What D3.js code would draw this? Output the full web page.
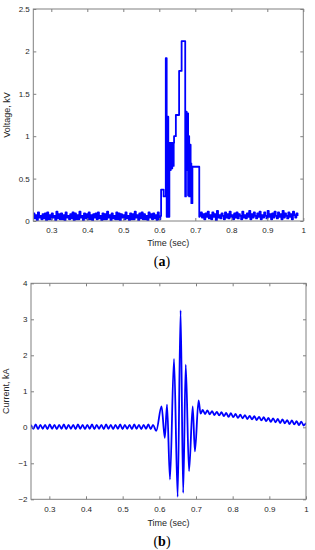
<!DOCTYPE html>
<html>
<head>
<meta charset="utf-8">
<script src="https://cdn.jsdelivr.net/npm/d3@7"></script>
<style>
  body { margin: 0; background: #fff; }
  svg { display: block; }
</style>
</head>
<body>
<div id="chart"></div>
<script>
// ---- tick labels ----
const timeTicks = [0.3, 0.4, 0.5, 0.6, 0.7, 0.8, 0.9, 1];
const voltageTicks = [0, 0.5, 1, 1.5, 2, 2.5];
const currentTicks = [-2, -1, 0, 1, 2, 3, 4];

// ---- (a) voltage, kV : sampled baseline + stepped burst ----
const voltageStep = 0.0032;
const voltagePreStart = 0.25;
const voltagePre = [
  0.09,0.03,0.07,0.01, 0.10,0.04,0.06,0.02, 0.08,0.03,0.09,0.01, 0.10,0.02,0.07,0.02,
  0.09,0.04,0.06,0.01, 0.11,0.03,0.08,0.02, 0.09,0.02,0.07,0.01, 0.10,0.04,0.06,0.02,
  0.08,0.03,0.10,0.01, 0.09,0.02,0.07,0.02, 0.11,0.04,0.06,0.01, 0.09,0.03,0.08,0.02,
  0.10,0.02,0.07,0.01, 0.08,0.04,0.09,0.02, 0.10,0.03,0.06,0.01, 0.09,0.02,0.08,0.02,
  0.11,0.04,0.07,0.01, 0.09,0.03,0.06,0.02, 0.10,0.02,0.09,0.01, 0.08,0.04,0.07,0.02,
  0.10,0.03,0.06,0.01, 0.09,0.02,0.08,0.02, 0.11,0.04,0.07,0.01, 0.09,0.03,0.10,0.02,
  0.08,0.02,0.06,0.01, 0.10,0.04,0.08,0.02, 0.09,0.03,0.07,0.01, 0.10,0.02
];
const voltageBurst = [
  [0.603, 0.06], [0.605, 0.37], [0.612, 0.29], [0.618, 1.92], [0.6205, 0.05],
  [0.622, 1.23], [0.625, 0.05], [0.628, 0.92], [0.630, 0.60], [0.632, 0.92],
  [0.634, 0.62], [0.636, 0.92], [0.638, 0.65], [0.640, 0.92], [0.641, 1.00],
  [0.646, 1.25], [0.655, 1.77], [0.662, 2.12], [0.672, 0.29], [0.674, 1.29],
  [0.676, 0.60], [0.678, 1.27], [0.680, 0.30], [0.681, 1.00], [0.683, 0.29],
  [0.685, 0.90], [0.687, 0.68], [0.689, 0.21], [0.692, 0.64], [0.711, 0.05]
];
const voltagePostStart = 0.712;
const voltagePost = [
  0.06,0.10,0.04,0.08, 0.02,0.09,0.05,0.11, 0.03,0.07,0.02,0.10, 0.05,0.08,0.01,0.12,
  0.04,0.07,0.03,0.09, 0.06,0.02,0.10,0.04, 0.08,0.03,0.11,0.05, 0.07,0.02,0.09,0.04,
  0.10,0.03,0.08,0.06, 0.02,0.11,0.04,0.07, 0.03,0.09,0.05,0.12, 0.02,0.08,0.04,0.10,
  0.06,0.03,0.09,0.05, 0.11,0.02,0.07,0.04, 0.10,0.06,0.03,0.12, 0.05,0.08,0.02,0.09,
  0.04,0.11,0.06,0.03, 0.10,0.05,0.08,0.02, 0.12,0.04,0.09,0.06, 0.03,0.10,0.05,0.08,
  0.02,0.11,0.07,0.04, 0.09,0.06
];

// ---- (b) current, kA : peaks/troughs of the ripple + burst ----
const currentStep = 0.0064;
const currentPreStart = 0.25;
const currentPre = [
  0.07,-0.04,0.08,-0.05,0.07,-0.04,0.07,-0.05,0.08,-0.04,
  0.07,-0.05,0.07,-0.04,0.08,-0.05,0.07,-0.04,0.07,-0.05,
  0.08,-0.04,0.07,-0.05,0.07,-0.04,0.08,-0.05,0.07,-0.04,
  0.07,-0.05,0.08,-0.04,0.07,-0.05,0.07,-0.04,0.08,-0.05,
  0.07,-0.04,0.07,-0.05,0.08,-0.04,0.07,-0.05,0.07,-0.04,
  0.08,-0.05,0.07
];
const currentBurst = [
  [0.5915, -0.10], [0.606, 0.58], [0.615, -0.29], [0.621, 0.63], [0.629, -1.45],
  [0.640, 1.90], [0.650, -1.93], [0.658, 3.25], [0.665, -1.82], [0.672, 1.74],
  [0.681, -1.22], [0.691, 0.58], [0.697, -0.67], [0.707, 0.75], [0.7125, 0.38]
];
const currentPostStart = 0.7184;
const currentPost = [
  0.48,0.37,0.47,0.36,0.45,0.34,0.43,0.33,0.42,0.31,
  0.40,0.29,0.39,0.28,0.37,0.26,0.35,0.25,0.34,0.23,
  0.32,0.22,0.31,0.20,0.29,0.19,0.28,0.17,0.26,0.15,
  0.25,0.14,0.23,0.12,0.22,0.11,0.20,0.09,0.19,0.08,
  0.17,0.06,0.16,0.05,0.12
];

function sampled(start, step, values) {
  return values.map((v, i) => [start + i * step, v]);
}

const voltageData = sampled(voltagePreStart, voltageStep, voltagePre)
  .concat(voltageBurst)
  .concat(sampled(voltagePostStart, voltageStep, voltagePost));

const currentData = sampled(currentPreStart, currentStep, currentPre)
  .concat(currentBurst)
  .concat(sampled(currentPostStart, currentStep, currentPost));

const W = 315, H = 550;
const axisColor = "#808080", textColor = "#262626";
const fmt = d3.format("~g");

const svg = d3.select("#chart").append("svg")
  .attr("width", W)
  .attr("height", H)
  .style("font-family", "Arial, 'Liberation Sans', sans-serif");

function drawPanel(p) {
  const x = d3.scaleLinear().domain([0.25, 1]).range([p.left, p.right]);
  const y = d3.scaleLinear().domain(p.yDomain).range([p.bottom, p.top]);

  const clipId = "clip-" + p.tag;
  svg.append("clipPath").attr("id", clipId)
    .append("rect")
    .attr("x", p.left).attr("y", p.top - 1)
    .attr("width", p.right - p.left).attr("height", p.bottom - p.top + 2);

  // line
  svg.append("path")
    .datum(p.data)
    .attr("clip-path", "url(#" + clipId + ")")
    .attr("fill", "none")
    .attr("stroke", "#0000ff")
    .attr("stroke-width", 1.8)
    .attr("stroke-linejoin", "round")
    .attr("d", d3.line().x(d => x(d[0])).y(d => y(d[1])).curve(p.curve));

  // axes, MATLAB style ticks pointing inwards
  const gx = svg.append("g")
    .attr("transform", "translate(0," + p.bottom + ")")
    .call(d3.axisBottom(x).tickValues(timeTicks).tickFormat(fmt)
      .tickSizeInner(-3).tickSizeOuter(0).tickPadding(p.xPad));
  const gxTop = svg.append("g")
    .attr("transform", "translate(0," + p.top + ")")
    .call(d3.axisTop(x).tickValues(timeTicks).tickFormat("")
      .tickSizeInner(-3).tickSizeOuter(0));
  const gy = svg.append("g")
    .attr("transform", "translate(" + p.left + ",0)")
    .call(d3.axisLeft(y).tickValues(p.yTicks).tickFormat(fmt)
      .tickSizeInner(-3).tickSizeOuter(0).tickPadding(3.5));
  const gyRight = svg.append("g")
    .attr("transform", "translate(" + p.right + ",0)")
    .call(d3.axisRight(y).tickValues(p.yTicks).tickFormat("")
      .tickSizeInner(-3).tickSizeOuter(0));

  [gx, gxTop, gy, gyRight].forEach(g => {
    g.select(".domain").remove();
    g.selectAll(".tick line").attr("stroke", axisColor);
    g.selectAll("text").attr("fill", textColor)
      .style("font-size", "8px")
      .style("font-family", "Arial, 'Liberation Sans', sans-serif");
  });

  // box
  svg.append("rect")
    .attr("x", p.left).attr("y", p.top)
    .attr("width", p.right - p.left).attr("height", p.bottom - p.top)
    .attr("fill", "none")
    .attr("stroke", axisColor)
    .attr("stroke-width", 1);

  // axis titles
  svg.append("text")
    .attr("x", (p.left + p.right) / 2)
    .attr("y", p.xTitleY)
    .attr("text-anchor", "middle")
    .attr("fill", textColor)
    .style("font-size", "9px")
    .text("Time (sec)");

  svg.append("text")
    .attr("transform", "translate(" + p.yTitleX + "," + ((p.top + p.bottom) / 2) + ") rotate(-90)")
    .attr("text-anchor", "middle")
    .attr("fill", textColor)
    .style("font-size", "9px")
    .text(p.yLabel);

  // panel tag, e.g. (a)
  const tag = svg.append("text")
    .attr("x", p.tagX)
    .attr("y", p.tagY)
    .attr("text-anchor", "middle")
    .attr("fill", "#000")
    .style("font-family", "'Liberation Serif', 'DejaVu Serif', serif")
    .style("font-size", "14px");
  tag.append("tspan").text("(");
  tag.append("tspan").style("font-weight", "bold").text(p.tag);
  tag.append("tspan").text(")");
}

drawPanel({
  tag: "a",
  data: voltageData,
  curve: d3.curveStepAfter,
  yDomain: [0, 2.5],
  yTicks: voltageTicks,
  yLabel: "Voltage, kV",
  left: 33.3, right: 303.3, top: 9, bottom: 221,
  xPad: 6.5, xTitleY: 246, yTitleX: 10,
  tagX: 162, tagY: 266
});

drawPanel({
  tag: "b",
  data: currentData,
  curve: d3.curveMonotoneX,
  yDomain: [-2, 4],
  yTicks: currentTicks,
  yLabel: "Current, kA",
  left: 31, right: 306, top: 283.3, bottom: 499.3,
  xPad: 7, xTitleY: 525.5, yTitleX: 9,
  tagX: 162, tagY: 546
});
</script>
</body>
</html>
